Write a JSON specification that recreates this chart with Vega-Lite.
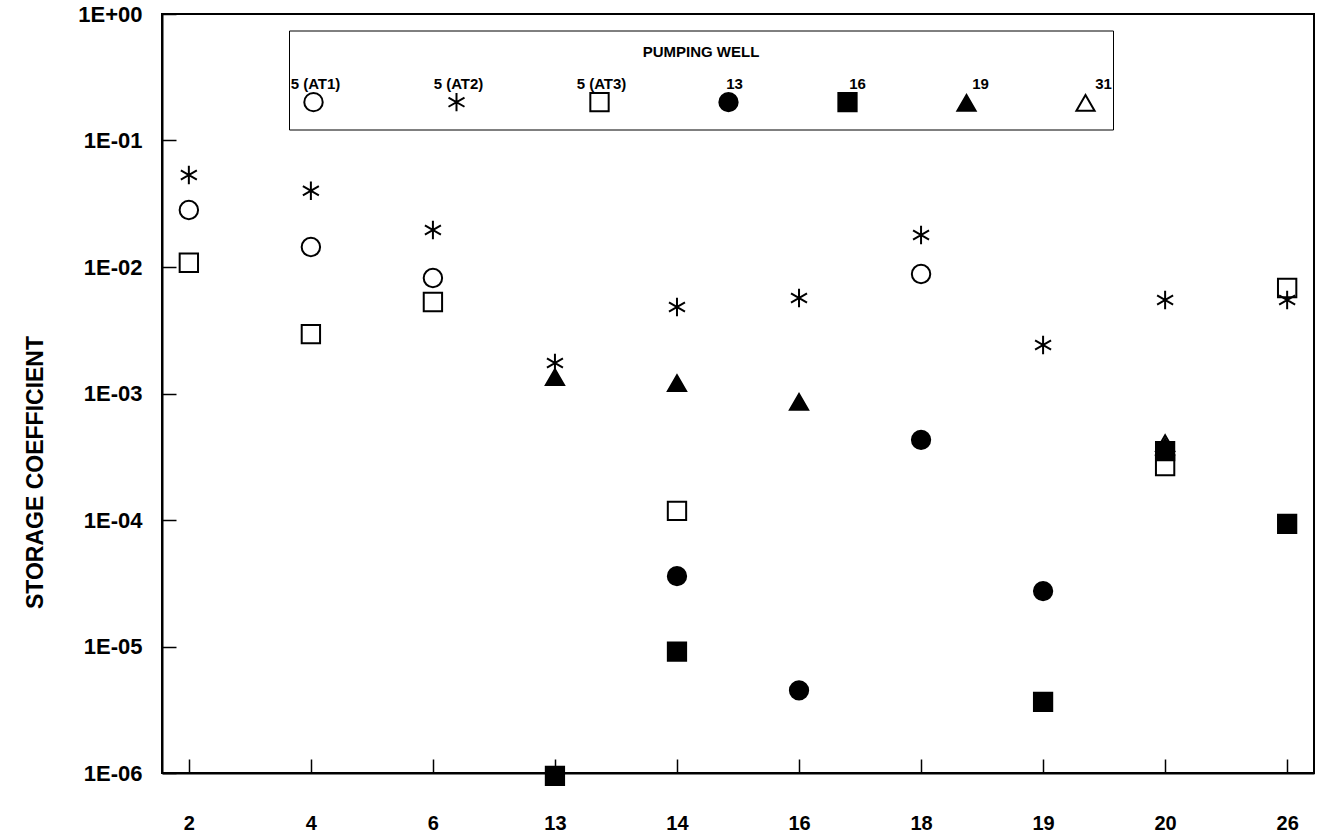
{
  "$schema": "https://vega.github.io/schema/vega-lite/v6.json",
  "width": 1152,
  "height": 759,
  "autosize": "none",
  "padding": {"left": 162, "top": 14, "right": 7, "bottom": 65},
  "background": "white",
  "config": {
    "font": "Liberation Sans",
    "view": {"stroke": "black", "strokeWidth": 2}
  },
  "data": {
    "values": [
      {"obs": "2", "well": "5 (AT1)", "s": 0.0282},
      {"obs": "2", "well": "5 (AT2)", "s": 0.0533},
      {"obs": "2", "well": "5 (AT3)", "s": 0.0108},
      {"obs": "4", "well": "5 (AT1)", "s": 0.0144},
      {"obs": "4", "well": "5 (AT2)", "s": 0.0401},
      {"obs": "4", "well": "5 (AT3)", "s": 0.00295},
      {"obs": "6", "well": "5 (AT1)", "s": 0.00818},
      {"obs": "6", "well": "5 (AT2)", "s": 0.0196},
      {"obs": "6", "well": "5 (AT3)", "s": 0.00529},
      {"obs": "13", "well": "19", "s": 0.00135},
      {"obs": "13", "well": "5 (AT2)", "s": 0.00174},
      {"obs": "13", "well": "16", "s": 0.00000095},
      {"obs": "14", "well": "5 (AT2)", "s": 0.00483},
      {"obs": "14", "well": "19", "s": 0.00121},
      {"obs": "14", "well": "5 (AT3)", "s": 0.000118},
      {"obs": "14", "well": "13", "s": 0.000036},
      {"obs": "14", "well": "16", "s": 0.0000091},
      {"obs": "16", "well": "5 (AT2)", "s": 0.00569},
      {"obs": "16", "well": "19", "s": 0.000857},
      {"obs": "16", "well": "13", "s": 0.0000045},
      {"obs": "18", "well": "5 (AT2)", "s": 0.0179},
      {"obs": "18", "well": "5 (AT1)", "s": 0.0088},
      {"obs": "18", "well": "13", "s": 0.00043},
      {"obs": "19", "well": "5 (AT2)", "s": 0.00242},
      {"obs": "19", "well": "13", "s": 0.0000274},
      {"obs": "19", "well": "16", "s": 0.00000365},
      {"obs": "20", "well": "5 (AT2)", "s": 0.00548},
      {"obs": "20", "well": "31", "s": 0.000406},
      {"obs": "20", "well": "19", "s": 0.00038},
      {"obs": "20", "well": "16", "s": 0.00035},
      {"obs": "20", "well": "5 (AT3)", "s": 0.000267},
      {"obs": "26", "well": "5 (AT3)", "s": 0.00682},
      {"obs": "26", "well": "5 (AT2)", "s": 0.00548},
      {"obs": "26", "well": "16", "s": 0.000093}
    ]
  },
  "mark": {"type": "point", "strokeWidth": 2, "stroke": "black", "opacity": 1},
  "encoding": {
    "x": {
      "field": "obs",
      "type": "ordinal",
      "sort": ["2", "4", "6", "13", "14", "16", "18", "19", "20", "26"],
      "scale": {"type": "point", "padding": 0.22},
      "axis": {
        "title": null,
        "labelAngle": 0,
        "labelFontSize": 20,
        "labelFontWeight": "bold",
        "labelColor": "black",
        "labelPadding": 54,
        "tickSize": -14,
        "tickColor": "black",
        "tickWidth": 1.5,
        "domainColor": "black",
        "domainWidth": 2,
        "grid": false
      }
    },
    "y": {
      "field": "s",
      "type": "quantitative",
      "scale": {"type": "log", "domain": [0.000001, 1], "nice": false},
      "axis": {
        "title": "STORAGE COEFFICIENT",
        "values": [0.000001, 0.00001, 0.0001, 0.001, 0.01, 0.1, 1],
        "labelExpr": "datum.value >= 1 ? '1E+00' : '1E-0' + round(-log(datum.value) / LN10)",
        "labelFontSize": 22,
        "labelFontWeight": "bold",
        "labelColor": "black",
        "labelPadding": 34,
        "tickSize": -14,
        "tickColor": "black",
        "tickWidth": 1.5,
        "domainColor": "black",
        "domainWidth": 2,
        "titleFontSize": 23,
        "titleFontWeight": "bold",
        "titleColor": "black",
        "titlePadding": 30,
        "titleY": 458,
        "grid": false
      }
    },
    "shape": {
      "field": "well",
      "type": "nominal",
      "scale": {
        "domain": ["5 (AT1)", "5 (AT2)", "5 (AT3)", "13", "16", "19", "31"],
        "range": ["circle", "M0,-1L0,1M-0.87,-0.5L0.87,0.5M-0.87,0.5L0.87,-0.5", "square", "circle", "square", "triangle-up", "triangle-up"]
      },
      "legend": {
        "title": "PUMPING WELL",
        "orient": "none",
        "legendX": 127,
        "legendY": 16.5,
        "direction": "horizontal",
        "titleAnchor": "middle",
        "titleFontSize": 15,
        "titleFontWeight": "bold",
        "titleColor": "black",
        "titlePadding": 32,
        "labelFontSize": 15,
        "labelFontWeight": "bold",
        "labelOpacity": 0,
        "labelAlign": "center",
        "labelBaseline": "middle",
        "labelOffset": -12.5,
        "columnPadding": 92,
        "padding": 14,
        "strokeColor": "black",
        "fillColor": "white",
        "symbolOpacity": 1,
        "symbolStrokeWidth": 2,
        "symbolStrokeColor": "black"
      }
    },
    "fill": {
      "field": "well",
      "type": "nominal",
      "scale": {
        "domain": ["5 (AT1)", "5 (AT2)", "5 (AT3)", "13", "16", "19", "31"],
        "range": ["transparent", "transparent", "transparent", "black", "black", "black", "transparent"]
      }
    },
    "size": {
      "field": "well",
      "type": "nominal",
      "scale": {
        "domain": ["5 (AT1)", "5 (AT2)", "5 (AT3)", "13", "16", "19", "31"],
        "range": [340, 330, 290, 380, 290, 520, 520]
      }
    },
    "opacity": {
      "field": "well",
      "type": "nominal",
      "sort": ["5 (AT1)", "5 (AT2)", "5 (AT3)", "13", "16", "19", "31"],
      "scale": {"range": [1, 1, 1, 1, 1, 1, 1]},
      "legend": {
        "title": null,
        "orient": "none",
        "legendX": 141,
        "legendY": 57.8,
        "direction": "horizontal",
        "labelFontSize": 15,
        "labelFontWeight": "bold",
        "labelColor": "black",
        "labelAlign": "center",
        "labelBaseline": "middle",
        "labelOffset": -12.5,
        "columnPadding": 92,
        "padding": 0,
        "symbolType": "square",
        "symbolFillColor": "transparent",
        "symbolStrokeColor": "transparent",
        "symbolSize": 520,
        "symbolStrokeWidth": 2
      }
    }
  }
}
